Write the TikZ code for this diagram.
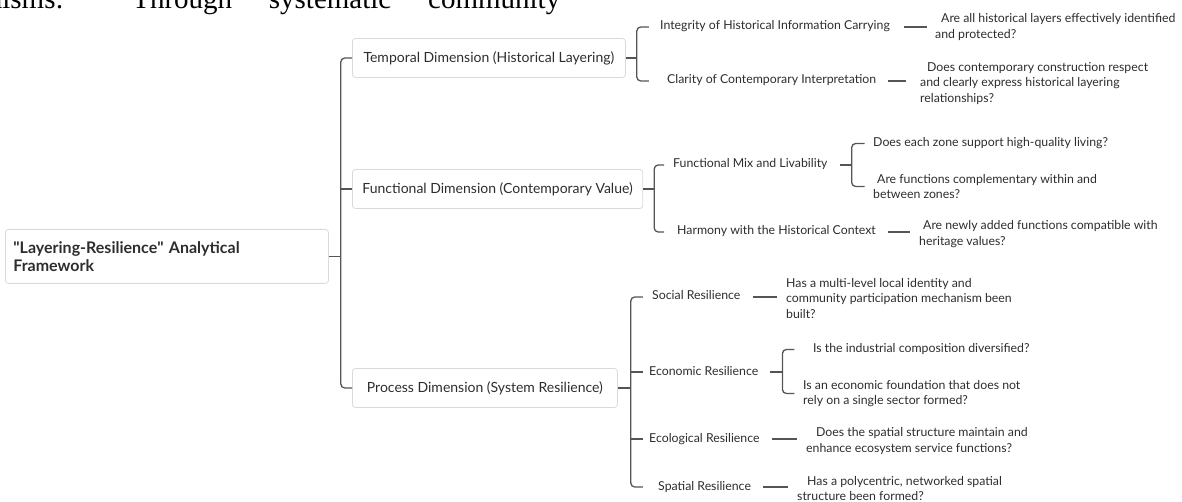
\documentclass[tikz,border=0pt]{standalone}
\usepackage{fontspec}
\setmainfont{Lato}
\newfontfamily\pageserif{Liberation Serif}
\usetikzlibrary{calc}
\definecolor{mapline}{RGB}{85,85,85}
\definecolor{mapbox}{RGB}{218,218,218}
\definecolor{maptext}{RGB}{45,45,45}
\newcommand{\rootfont}{\fontsize{16}{18}\selectfont\bfseries}
\newcommand{\dimfont}{\fontsize{14}{16}\selectfont}
\newcommand{\itemfont}{\fontsize{12.3}{15.5}\selectfont}

\begin{document}
\begin{tikzpicture}[x=1pt,y=-1pt,
    conn/.style={draw=mapline,line width=1.3pt,rounded corners=4pt},
    dimbox/.style={draw=mapbox,line width=0.8pt,rounded corners=3pt,inner xsep=10pt,
        minimum height=39pt,anchor=west,font=\dimfont,text=maptext},
    item/.style={inner sep=0pt,anchor=west,font=\itemfont,text=maptext,
        text height=8.5pt,text depth=2.5pt},
    quest/.style={inner sep=0pt,anchor=west,font=\itemfont,text=maptext,align=left,yshift=-1.5pt}]
    \useasboundingbox (0,0) rectangle (1182,502);

    % cut-off line of page text
    \begin{scope}
        \clip (0,0) rectangle (1182,502);
        \node[anchor=base west,inner sep=0pt,font=\pageserif\fontsize{29}{30}\selectfont] (pagetext) at (-88,9)
            {\makebox[648pt][s]{mechanisms: Through systematic community}};
    \end{scope}

    % Root
    \node[draw=mapbox,line width=0.8pt,rounded corners=3pt,anchor=north west,inner xsep=8pt,
        text width=307pt,minimum height=54pt,align=left,font=\rootfont,text=maptext]
        (root) at (5,229) {\textquotedbl Layering-Resilience\textquotedbl{} Analytical\\Framework};

    % Dimensions
    \node[dimbox,minimum width=273pt] (temporal) at (352,58) {Temporal Dimension (Historical Layering)};
    \node[dimbox,minimum width=290pt] (functional) at (352,189) {Functional Dimension (Contemporary Value)};
    \node[dimbox,minimum width=265pt] (process) at (352,388) {Process Dimension (System Resilience)};

    \coordinate (trunk) at ($(root.east)+(12,0)$);
    \draw[conn] (root.east) -- (trunk);
    \draw[conn] (temporal.west) -| (trunk) |- (process.west);
    \draw[conn] (functional.west) -- (trunk |- functional.west);

    % Temporal dimension
    \node[item] (integ) at (660,27) {Integrity of Historical Information Carrying};
    \node[item] (clarity) at (667,81) {Clarity of Contemporary Interpretation};
    \coordinate (tbar) at ($(temporal.east)+(11,0)$);
    \draw[conn] (temporal.east) -- (tbar);
    \draw[conn] ($(tbar |- integ.west)+(12,0)$) -| (tbar) |- ($(tbar |- clarity.west)+(12,0)$);

    \node[quest] (qinteg) at (935,25.5) {\hspace*{6pt}Are all historical layers effectively identified\\and protected?};
    \draw[conn] ([xshift=14pt]integ.east) -- ($(qinteg.west |- integ.east)+(-8,0)$);
    \node[quest] (qclarity) at (920,82) {\hspace*{7pt}Does contemporary construction respect\\and clearly express historical layering\\relationships?};
    \draw[conn] ([xshift=12pt]clarity.east) -- ($(qclarity.west |- clarity.east)+(-14,0)$);

    % Functional dimension
    \node[item] (mixliv) at (673,165) {Functional Mix and Livability};
    \node[item] (harmony) at (677,232) {Harmony with the Historical Context};
    \coordinate (fbar) at ($(functional.east)+(11,0)$);
    \draw[conn] (functional.east) -- (fbar);
    \draw[conn] ($(fbar |- mixliv.west)+(10,0)$) -| (fbar) |- ($(fbar |- harmony.west)+(10,0)$);

    \node[quest] (qlive) at (873,142) {Does each zone support high-quality living?};
    \node[quest] (qcomp) at (873,185) {\hspace*{4pt}Are functions complementary within and\\between zones?};
    \coordinate (mbar) at ($(mixliv.east)+(24,0)$);
    \draw[conn] ([xshift=12pt]mixliv.east) -- (mbar);
    \draw[conn] ($(mbar |- qlive.west)+(13,0)$) -| (mbar) |- ($(mbar |- qcomp.west)+(13,0)$);

    \node[quest] (qharm) at (919,232.5) {\hspace*{4pt}Are newly added functions compatible with\\heritage values?};
    \draw[conn] ([xshift=12pt]harmony.east) -- ($(qharm.west |- harmony.east)+(-9,0)$);

    % Process dimension
    \node[item] (social) at (652,297) {Social Resilience};
    \node[item] (economic) at (649,372) {Economic Resilience};
    \node[item] (ecolog) at (649,439) {Ecological Resilience};
    \node[item] (spatial) at (658,487) {Spatial Resilience};
    \coordinate (pbar) at ($(process.east)+(13,0)$);
    \draw[conn] (process.east) -- (pbar);
    \draw[conn] ($(pbar |- social.west)+(12,0)$) -| (pbar) |- ($(pbar |- spatial.west)+(12,0)$);
    \draw[conn] (pbar |- economic.west) -- ++(12,0);
    \draw[conn] (pbar |- ecolog.west) -- ++(12,0);

    \node[quest] (qsocial) at (786,297) {Has a multi-level local identity and\\community participation mechanism been\\built?};
    \draw[conn] ([xshift=12pt]social.east) -- ($(qsocial.west |- social.east)+(-9,0)$);

    \node[quest] (qindus) at (813,348) {Is the industrial composition diversified?};
    \node[quest] (qfound) at (803,392) {Is an economic foundation that does not\\rely on a single sector formed?};
    \coordinate (ebar) at ($(economic.east)+(24,0)$);
    \draw[conn] ([xshift=12pt]economic.east) -- (ebar);
    \draw[conn] ($(ebar |- qindus.west)+(12,0)$) -| (ebar) |- ($(ebar |- qfound.west)+(12,0)$);

    \node[quest] (qecolog) at (806,439.5) {\hspace*{10pt}Does the spatial structure maintain and\\enhance ecosystem service functions?};
    \draw[conn] ([xshift=12pt]ecolog.east) -- ($(qecolog.west |- ecolog.east)+(-9,0)$);

    \node[quest] (qspatial) at (797,487) {\hspace*{10pt}Has a polycentric, networked spatial\\structure been formed?};
    \draw[conn] ([xshift=12pt]spatial.east) -- ($(qspatial.west |- spatial.east)+(-9,0)$);
\end{tikzpicture}
\end{document}
